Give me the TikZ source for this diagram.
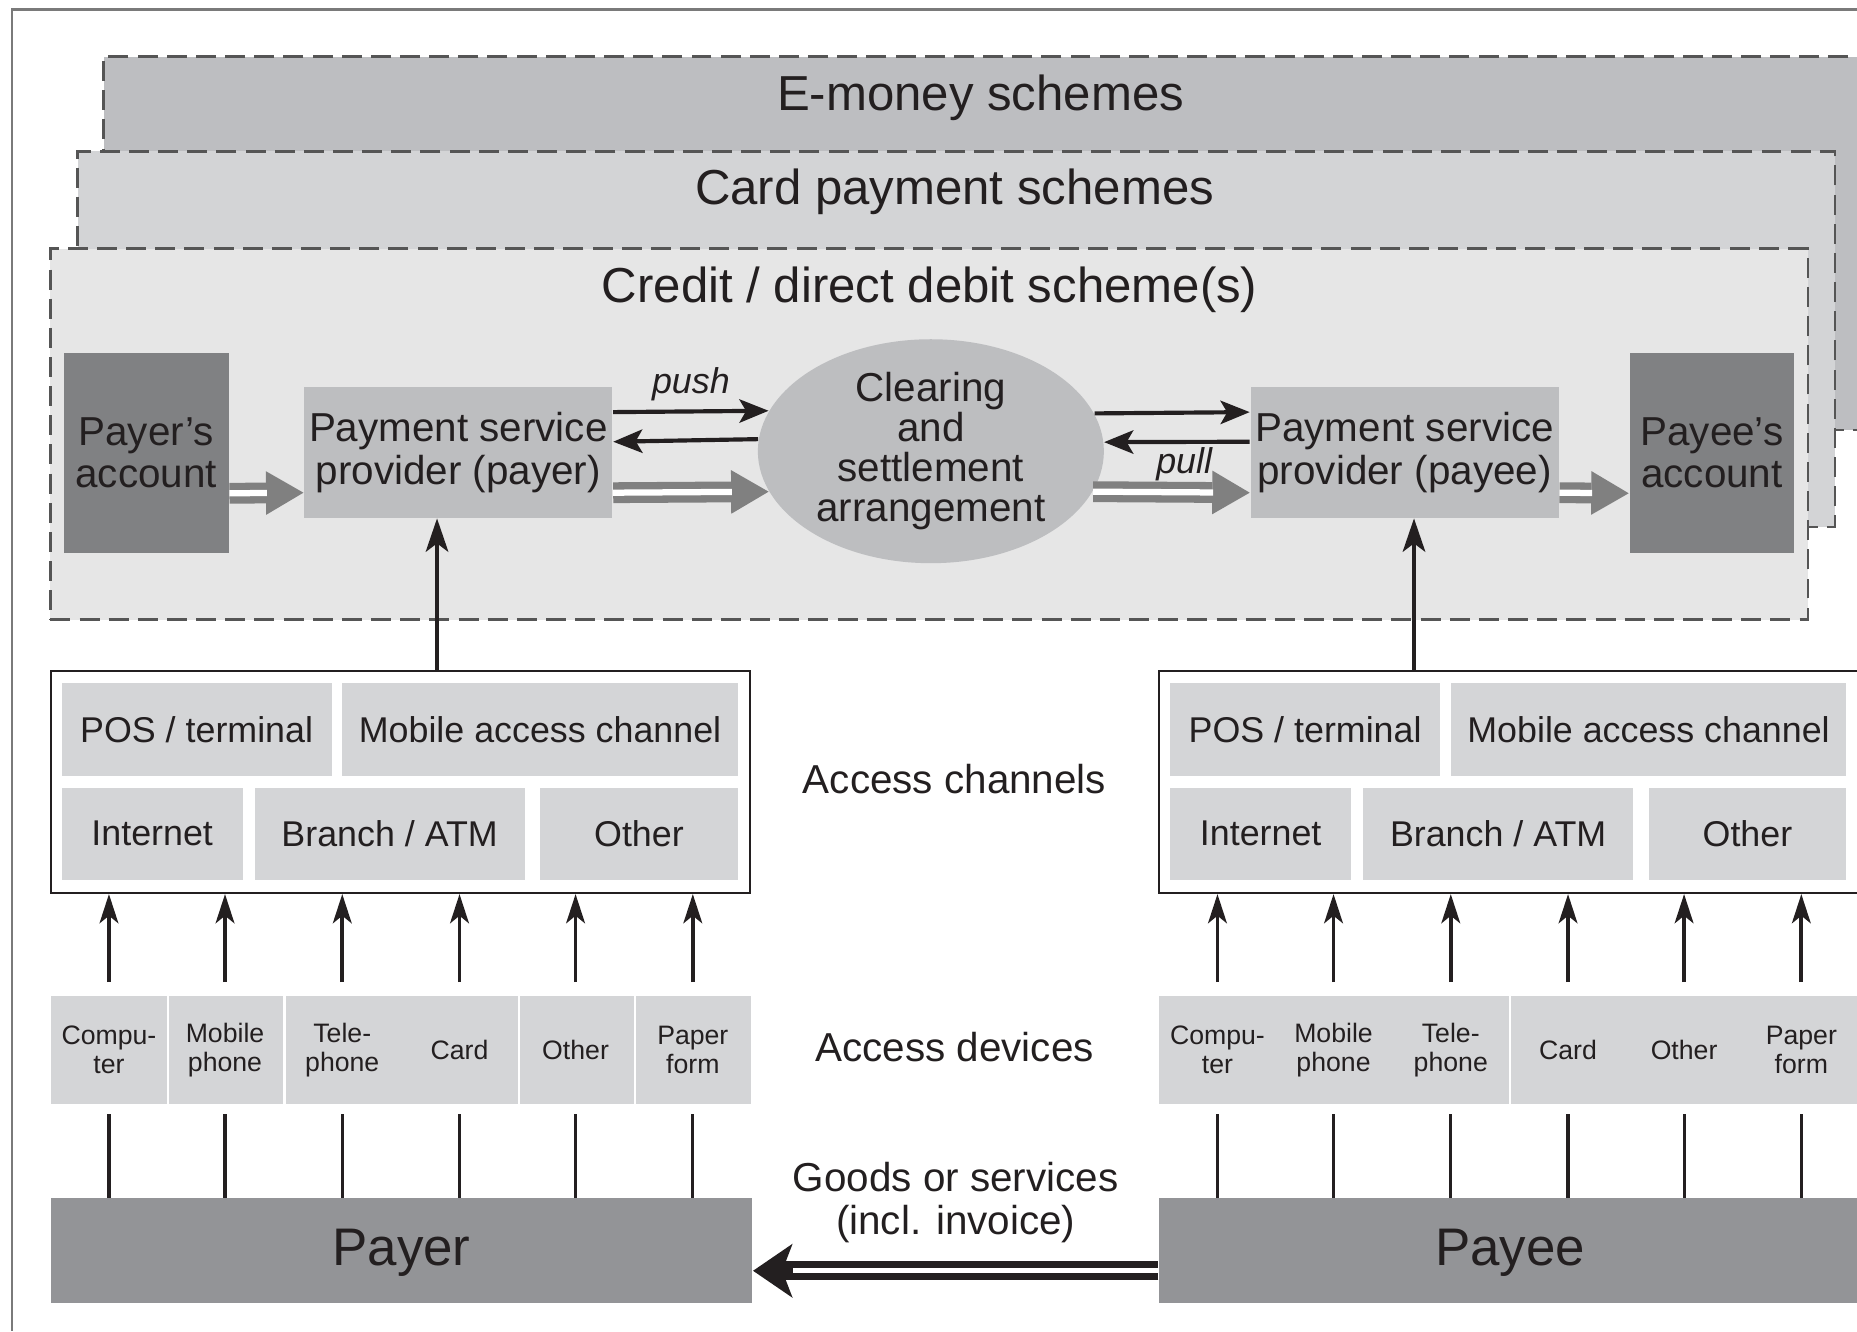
\documentclass[tikz,border=0pt]{standalone}
\usepackage{fontspec}
\setmainfont{Liberation Sans}
\usetikzlibrary{arrows.meta,shapes.geometric}
\definecolor{ink}{HTML}{231F20}
\definecolor{framegray}{HTML}{7A7A7A}
\definecolor{dashgray}{HTML}{555555}
\definecolor{emoneyfill}{HTML}{BDBEC1}
\definecolor{cardfill}{HTML}{D3D4D6}
\definecolor{creditfill}{HTML}{E6E6E6}
\definecolor{accfill}{HTML}{808183}
\definecolor{pspfill}{HTML}{BDBEC0}
\definecolor{cellfill}{HTML}{D4D5D7}
\definecolor{partyfill}{HTML}{939497}
\definecolor{flowgray}{HTML}{808080}
\newcommand\schemefnt{\fontsize{11.8pt}{13pt}\selectfont}
\newcommand\boxfnt{\fontsize{9.7pt}{10.2pt}\selectfont}
\newcommand\clearfnt{\fontsize{9.7pt}{9.6pt}\selectfont}
\newcommand\cellfnt{\fontsize{8.6pt}{9pt}\selectfont}
\newcommand\devfnt{\fontsize{6.4pt}{6.9pt}\selectfont}
\newcommand\partyfnt{\fontsize{12.7pt}{14pt}\selectfont}

\begin{document}
\begin{tikzpicture}[x=0.01cm,y=-0.01cm,
  every node/.style={text=ink},
  scheme/.style={draw=dashgray,line width=0.6pt,dash pattern=on 4.8pt off 2.2pt,inner sep=0pt},
  schemetitle/.style={anchor=base,inner sep=0pt,font=\schemefnt},
  box/.style={inner sep=0pt,align=center,font=\boxfnt},
  acc/.style={box,fill=accfill,minimum width=1.39cm,minimum height=1.69cm},
  psp/.style={box,fill=pspfill,minimum width=2.6cm,minimum height=1.1cm},
  chan/.style={draw=ink,line width=0.5pt,fill=white,minimum width=5.9cm,minimum height=1.87cm},
  cell/.style={fill=cellfill,inner sep=0pt,minimum height=0.78cm,font=\cellfnt},
  device/.style={fill=cellfill,inner sep=0pt,minimum width=0.986cm,minimum height=0.91cm,align=center,font=\devfnt},
  party/.style={fill=partyfill,inner sep=0pt,minimum width=5.92cm,minimum height=0.88cm,font=\partyfnt,
    text height=0.72em,text depth=0pt},
  msg/.style={draw=ink,line width=1pt,-{Stealth[length=7pt,width=5.6pt,inset=1.6pt]}},
  flow/.style={draw=flowgray,line width=5pt,-{Triangle[length=9pt,width=10.5pt,line width=0pt]},
    postaction={draw=white,line width=1.5pt,-,shorten >=8.8pt}},
  goods/.style={draw=ink,line width=4.5pt,-{Stealth[length=9.5pt,width=13pt,inset=2.5pt,line width=0pt]},
    postaction={draw=white,line width=1.1pt,-,shorten >=9.5pt}},
  feed/.style={draw=ink,line width=1pt,-{Stealth[length=8pt,width=5.4pt,inset=2pt]}},
  devfeed/.style={draw=ink,line width=0.9pt,-{Stealth[length=7pt,width=4.5pt,inset=1.8pt]}},
  tie/.style={draw=ink,line width=0.75pt},
  sep/.style={draw=white,line width=0.6pt}]
\useasboundingbox (0,0) rectangle (1568,1124);
\clip (0,0) rectangle (1568,1124);
\draw[framegray,line width=0.6pt] (1568,8) -- (10,8) -- (10,1124);

% schemes
\node[scheme,fill=emoneyfill,minimum width=16.12cm,minimum height=3.15cm] (emoney) at (894,205.5) {};
\node[schemetitle] (emoneyt) at (828,93) {E-money schemes};
\node[scheme,fill=cardfill,minimum width=14.83cm,minimum height=3.17cm] (card) at (807.5,286.5) {};
\node[schemetitle] (cardt) at (806,173) {Card payment schemes};
\node[scheme,fill=creditfill,minimum width=14.83cm,minimum height=3.13cm] (credit) at (784.5,366.5) {};
\node[schemetitle] (creditt) at (785,255) {Credit / direct debit scheme(s)};

% accounts, providers, clearing
\node[acc] (payeracc) at (123.5,382.5) {Payer's\\account};
\node[psp] (psppayer) at (387,382) {Payment service\\provider (payer)};
\node[ellipse,fill=pspfill,minimum width=2.92cm,minimum height=1.89cm,inner sep=0pt,align=center,font=\clearfnt] (clearing) at (786,381) {Clearing\\and\\settlement\\arrangement};
\node[psp] (psppayee) at (1186,382) {Payment service\\provider (payee)};
\node[acc] (payeeacc) at (1445.5,382.5) {Payee's\\account};

\draw[msg] ([yshift=0.34cm]psppayer.east) -- (clearing.166.5)
  node[midway,above=0.07cm,inner sep=0pt,font=\cellfnt\itshape] (push) {push};
\draw[msg] (clearing.176.9) -- ([yshift=0.09cm]psppayer.east);
\draw[msg] (clearing.13.5) -- ([yshift=0.34cm]psppayee.west);
\draw[msg] ([yshift=0.09cm]psppayee.west) -- (clearing.3.1)
  node[pos=0.45,below=0.03cm,inner sep=0pt,font=\cellfnt\itshape] (pull) {pull};
\draw[flow] ([yshift=-0.34cm]payeracc.east) -- ([yshift=-0.34cm]psppayer.west);
\draw[flow] ([yshift=-0.34cm]psppayer.east) -- (clearing.194.5);
\draw[flow] (clearing.-14.5) -- ([yshift=-0.34cm]psppayee.west);
\draw[flow] ([yshift=-0.34cm]psppayee.east) -- ([yshift=-0.34cm]payeeacc.west);

% access channels
\foreach \s/\dx in {payer/0,payee/936}{
  \node[chan] (chan\s) at (338+\dx,660.5) {};
  \node[cell,minimum width=2.28cm] (pos\s) at (166+\dx,616) {POS / terminal};
  \node[cell,minimum width=3.34cm] (mob\s) at (456+\dx,616) {Mobile access channel};
  \node[cell,minimum width=1.53cm] (inet\s) at (128.5+\dx,704) {Internet};
  \node[cell,minimum width=2.28cm] (branch\s) at (329+\dx,704) {Branch / ATM};
  \node[cell,minimum width=1.67cm] (other\s) at (539.5+\dx,704) {Other};
}
\node[font=\boxfnt] (chanlbl) at (806,658) {Access channels};
\draw[feed] ([xshift=0.31cm]chanpayer.north) -- ([xshift=0.31cm]chanpayer.north |- psppayer.south);
\draw[feed] ([xshift=-0.8cm]chanpayee.north) -- ([xshift=-0.8cm]chanpayee.north |- psppayee.south);

% access devices
\foreach \s/\dx in {payer/0,payee/936}{
  \foreach \n/\x/\t in {comp/92/{Compu-\\ter},mob/190/{Mobile\\phone},tel/289/{Tele-\\phone},card/388/Card,oth/486/Other,pap/585/{Paper\\form}}{
    \node[device] (d\n\s) at (\x+\dx,886.5) {\t};
  }
}
\foreach \n in {comppayer,mobpayer,cardpayer,othpayer,telpayee}
  \draw[sep] (d\n.north east) -- (d\n.south east);
\node[font=\boxfnt] (devlbl) at (806,884) {Access devices};

% payer and payee
\node[party] (payer) at (339,1056) {Payer};
\node[party] (payee) at (1275,1056) {Payee};
\foreach \s in {payer,payee}
  \foreach \n in {comp,mob,tel,card,oth,pap}{
    \draw[devfeed] ([yshift=0.11cm]d\n\s.north) -- (d\n\s.north |- chan\s.south);
    \draw[tie] ([yshift=-0.08cm]d\n\s.south) -- (d\n\s.south |- \s.north);
  }
\draw[goods] ([yshift=-0.17cm]payee.west) -- ([yshift=-0.17cm]payer.east)
  node[midway,above=0.16cm,inner sep=0pt,align=center,font=\boxfnt] (goodslbl) {Goods or services\\(incl. invoice)};
\end{tikzpicture}
\end{document}
